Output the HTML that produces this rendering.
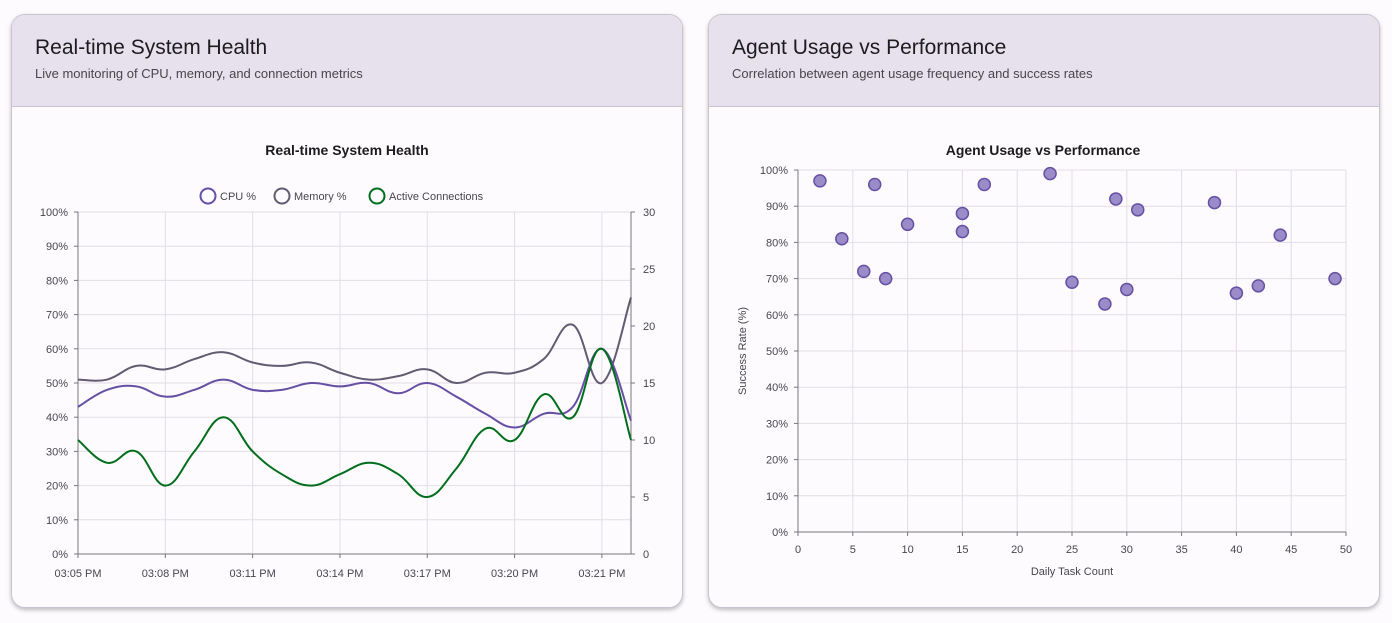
<!DOCTYPE html>
<html><head><meta charset="utf-8"><style>
body{margin:0;width:1392px;height:623px;background:#fdfbfe;font-family:"Liberation Sans",sans-serif;position:relative;overflow:hidden}
.card{position:absolute;top:14px;width:670px;height:592px;border:1px solid #c9c4cf;border-radius:14px;background:#fdfbfe;box-shadow:0 2px 4px rgba(0,0,0,.25);overflow:hidden}
.hd{height:92px;background:#e6e1ec;border-bottom:1px solid #c9c4cf;padding-left:23px;box-sizing:border-box}
.hd h2{margin:0;padding-top:21px;font-size:21px;font-weight:normal;color:#1c1b1f}
.hd p{margin:6px 0 0;font-size:13px;color:#49454f}
svg{position:absolute;left:0;top:0}
text{font-family:"Liberation Sans",sans-serif;fill:#49454f;font-size:11px}
</style></head><body>
<div class="card" style="left:11px"><div class="hd"><h2>Real-time System Health</h2><p>Live monitoring of CPU, memory, and connection metrics</p></div></div>
<div class="card" style="left:708px"><div class="hd"><h2>Agent Usage vs Performance</h2><p>Correlation between agent usage frequency and success rates</p></div></div>
<svg id="s" width="1392" height="623"></svg>
<script>
var s=document.getElementById('s'),h='';
function L(x1,y1,x2,y2,c,w){h+='<line x1="'+x1+'" y1="'+y1+'" x2="'+x2+'" y2="'+y2+'" stroke="'+c+'" stroke-width="'+(w||1)+'"/>';}
function T(x,y,t,a,extra){h+='<text x="'+x+'" y="'+y+'" text-anchor="'+(a||'start')+'" '+(extra||'')+'>'+t+'</text>';}
var X0=78,X1=631,Y0=554,Y1=212;
T(347,155,'Real-time System Health','middle','style="font-size:14px;font-weight:bold;fill:#1c1b1f"');
var lg=[[208,'#6750a4','CPU %'],[282,'#625b71','Memory %'],[377,'#006e1c','Active Connections']];
lg.forEach(function(l){h+='<circle cx="'+l[0]+'" cy="196" r="7.5" fill="none" stroke="'+l[1]+'" stroke-width="2"/>';T(l[0]+12,200,l[2]);});
for(var i=0;i<=10;i++){var y=Y0-i*(Y0-Y1)/10;L(X0,y,X1,y,'#e2dee6');L(X0-4,y,X0,y,'#79747e');T(X0-10,y+4,(i*10)+'%','end');}
for(var i=0;i<=6;i++){var y=Y0-i*(Y0-Y1)/6;L(X1,y,X1+4,y,'#79747e');T(X1+12,y+4,i*5);}
var lab=['03:05 PM','03:08 PM','03:11 PM','03:14 PM','03:17 PM','03:20 PM','03:21 PM'];
var dx=(X1-X0)/19;
for(var i=0;i<7;i++){var x=X0+i*3*dx;L(x,Y1,x,Y0,'#e2dee6');L(x,Y0,x,Y0+4,'#79747e');T(x,577,lab[i],'middle');}
L(X0,Y1,X0,Y0,'#79747e');L(X1,Y1,X1,Y0,'#79747e');L(X0,Y0,X1,Y0,'#79747e');
function path(d,mx,c){var p=d.map(function(v,i){return [X0+i*dx,Y0-v/mx*(Y0-Y1)]});
var str='M'+p[0][0]+','+p[0][1];
for(var i=0;i<p.length-1;i++){var a=p[i-1]||p[i],b=p[i],c2=p[i+1],e=p[i+2]||c2,t=0.2;
str+=' C'+(b[0]+(c2[0]-a[0])*t)+','+(b[1]+(c2[1]-a[1])*t)+' '+(c2[0]-(e[0]-b[0])*t)+','+(c2[1]-(e[1]-b[1])*t)+' '+c2[0]+','+c2[1];}
h+='<path d="'+str+'" fill="none" stroke="'+c+'" stroke-width="2"/>';}
path([51,51,55,54,57,59,56,55,56,53,51,52,54,50,53,53,57,67,50,75],100,'#625b71');
path([43,48,49,46,48,51,48,48,50,49,50,47,50,46,41,37,41,43,60,39],100,'#6750a4');
path([10,8,9,6,9,12,9,7,6,7,8,7,5,7.5,11,10,14,12,18,10],30,'#006e1c');
var A0=798,A1=1346,B0=532,B1=170;
T(1043,155,'Agent Usage vs Performance','middle','style="font-size:14px;font-weight:bold;fill:#1c1b1f"');
for(var i=0;i<=10;i++){var y=B0-i*(B0-B1)/10;L(A0,y,A1,y,'#e2dee6');L(A0-4,y,A0,y,'#79747e');T(A0-10,y+4,(i*10)+'%','end');}
for(var i=0;i<=10;i++){var x=A0+i*(A1-A0)/10;L(x,B1,x,B0,'#e2dee6');L(x,B0,x,B0+4,'#79747e');T(x,553,i*5,'middle');}
L(A0,B1,A0,B0,'#79747e');L(A0,B0,A1,B0,'#79747e');
T(1072,575,'Daily Task Count','middle');
T(746,351,'Success Rate (%)','middle','transform="rotate(-90 746 351)"');
[[2,97],[4,81],[6,72],[7,96],[8,70],[10,85],[15,88],[15,83],[17,96],[23,99],[25,69],[28,63],[29,92],[30,67],[31,89],[38,91],[40,66],[42,68],[44,82],[49,70]].forEach(function(p){
h+='<circle cx="'+(A0+p[0]/50*(A1-A0))+'" cy="'+(B0-p[1]/100*(B0-B1))+'" r="6" fill="#9a8cc8" stroke="#6750a4" stroke-width="1.5"/>';});
s.innerHTML=h;
</script>
</body></html>
